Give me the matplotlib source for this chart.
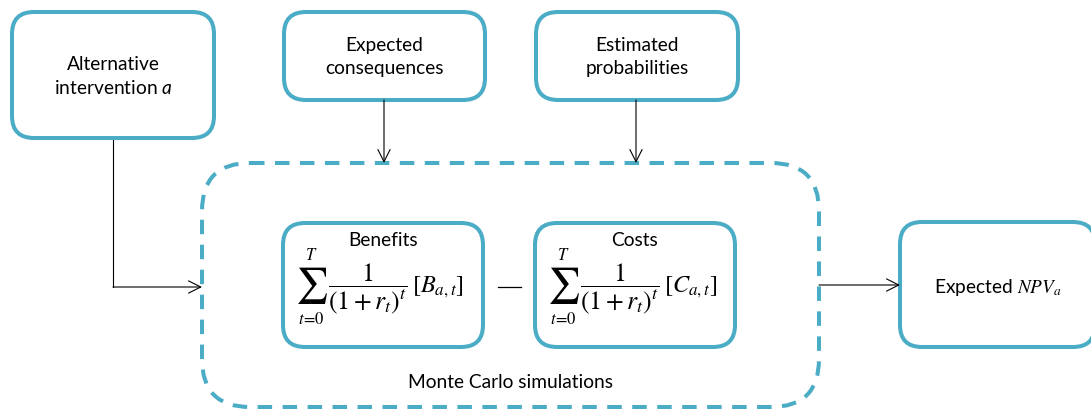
import matplotlib
matplotlib.use("Agg")
import matplotlib.pyplot as plt
from matplotlib.patches import FancyBboxPatch

plt.rcParams['mathtext.fontset'] = 'stix'
plt.rcParams['mathtext.it'] = 'Lato:italic'
plt.rcParams['mathtext.rm'] = 'Lato'
plt.rcParams['font.family'] = ['Lato', 'DejaVu Sans']

# ---- content ----
top_labels = ["Alternative\nintervention $\\mathit{a}$", "Expected\nconsequences", "Estimated\nprobabilities"]
inner_titles = ["Benefits", "Costs"]
sum_upper = r"$T$"
sum_lower = r"$t\!=\!0$"
discount = r"$\dfrac{1}{(1+r_t)^t}$"
flow_terms = [r"$[B_{a,t}]$", r"$[C_{a,t}]$"]
result_label = "Expected $NPV_a$"
group_label = "Monte Carlo simulations"

# ---- layout (pixels) ----
W, H = 1091, 409
COL = '#4BACC6'
FS = 13.8
fig = plt.figure(figsize=(W / 100, H / 100), dpi=100)
ax = fig.add_axes([0, 0, 1, 1])
ax.set_xlim(0, W)
ax.set_ylim(H, 0)
ax.axis('off')

def rbox(x0, y0, x1, y1, r=22, ls='solid', lw=2.9):
    p = FancyBboxPatch((x0, y0), x1 - x0, y1 - y0,
                       boxstyle=f"round,pad=0,rounding_size={r}",
                       fc='white', ec=COL, lw=lw, ls=ls, zorder=2)
    ax.add_patch(p)

def arrow(pts):
    xs = [p[0] for p in pts]
    ys = [p[1] for p in pts]
    ax.plot(xs[:-1], ys[:-1], color='black', lw=0.8, zorder=1)
    ax.annotate('', xy=pts[-1], xytext=pts[-2],
                arrowprops=dict(arrowstyle='->', color='black', lw=0.8,
                                mutation_scale=22, shrinkA=0, shrinkB=0), zorder=3)

# dashed group box
rbox(202, 163, 819, 407, r=48, ls=(0, (3.6, 2.6)))

top_boxes = [(12, 12, 214, 138), (284, 12, 485, 100), (536, 12, 738, 100)]
for (x0, y0, x1, y1), lab in zip(top_boxes, top_labels):
    rbox(x0, y0, x1, y1)
    ax.text((x0 + x1) / 2, (y0 + y1) / 2 + 1, lab, ha='center', va='center',
            fontsize=FS, linespacing=1.4, zorder=4, math_fontfamily='custom')

inner_boxes = [(283, 223, 483, 347), (535, 223, 735, 347)]
for (x0, y0, x1, y1), t, term in zip(inner_boxes, inner_titles, flow_terms):
    rbox(x0, y0, x1, y1)
    ax.text((x0 + x1) / 2, 241, t, ha='center', va='center', fontsize=FS, zorder=4)
    sx = x0 + 28
    ax.text(sx, 286, r"$\sum$", ha='center', va='center', fontsize=26, zorder=4)
    ax.text(sx, 255, sum_upper, ha='center', va='center', fontsize=12, zorder=4)
    ax.text(sx, 319, sum_lower, ha='center', va='center', fontsize=12, zorder=4)
    ax.text(x0 + 45, 289, discount, ha='left', va='center', fontsize=18.5, zorder=4)
    ax.text(x0 + 129, 287, term, ha='left', va='center', fontsize=17.5, zorder=4)

ax.plot([498, 521], [287, 287], color='black', lw=0.9, zorder=4)

rbox(900, 222, 1095, 347)
ax.text(998, 287, result_label, ha='center', va='center', fontsize=FS, zorder=4)

ax.text(510, 383, group_label, ha='center', va='center', fontsize=FS, zorder=4)

# arrows
arrow([(113, 138), (113, 287), (202, 287)])
arrow([(384, 100), (384, 163)])
arrow([(636, 100), (636, 163)])
arrow([(819, 285), (900, 285)])

fig.savefig('out.png', dpi=100)
